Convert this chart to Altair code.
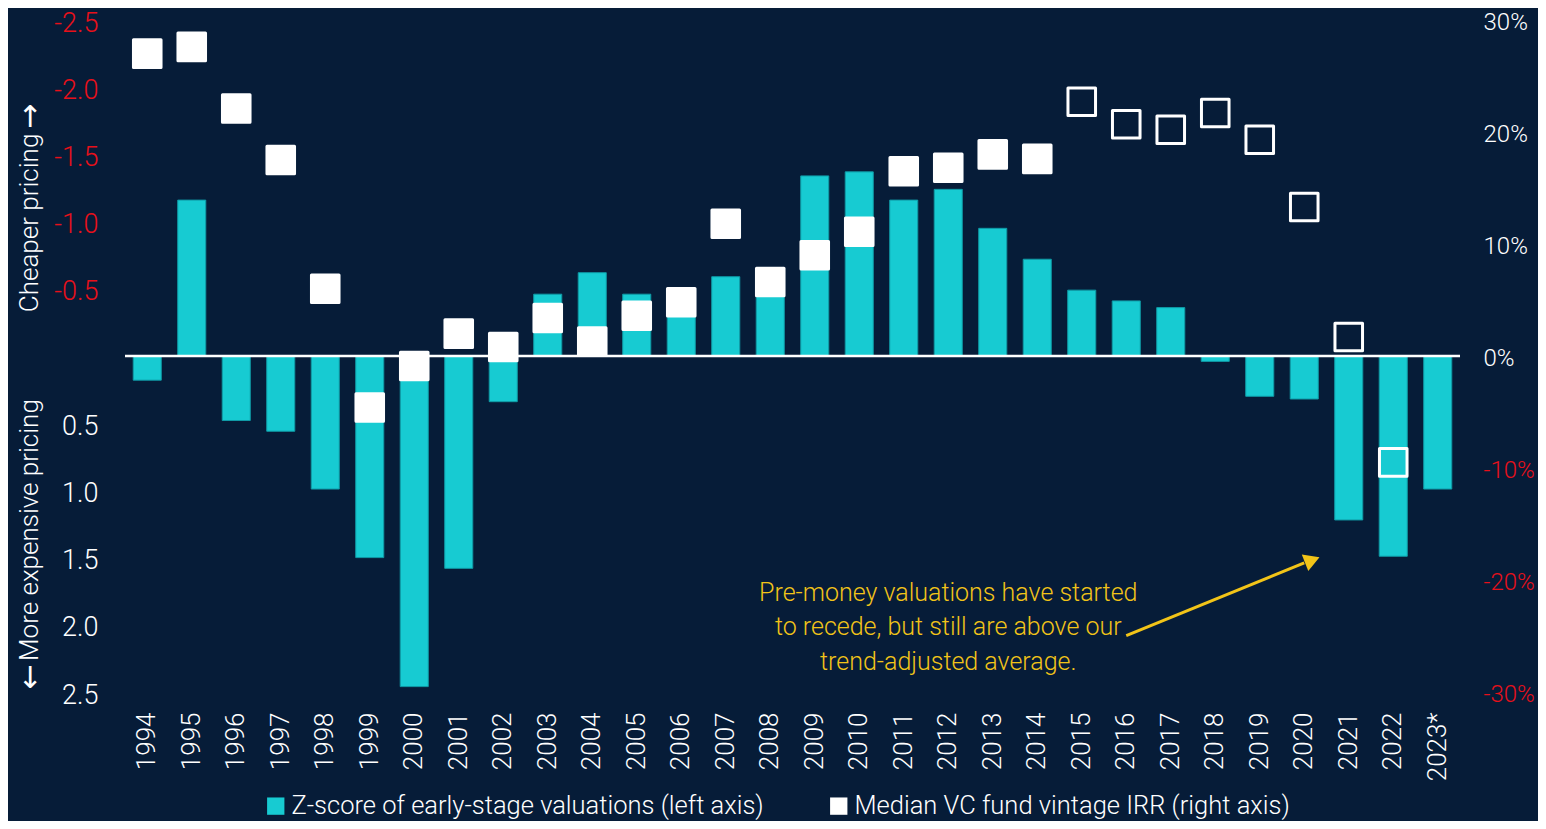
import altair as alt
import pandas as pd

years = ["1994","1995","1996","1997","1998","1999","2000","2001","2002","2003",
         "2004","2005","2006","2007","2008","2009","2010","2011","2012","2013",
         "2014","2015","2016","2017","2018","2019","2020","2021","2022","2023*"]
zscore = [0.18,-1.16,0.48,0.56,0.99,1.50,2.46,1.58,0.34,-0.46,
          -0.62,-0.46,-0.40,-0.59,-0.52,-1.34,-1.37,-1.16,-1.24,-0.95,
          -0.72,-0.49,-0.41,-0.36,0.04,0.30,0.32,1.22,1.49,0.99]
irr_years = ["1994","1995","1996","1997","1998","1999","2000","2001","2002","2003",
             "2004","2005","2006","2007","2008","2009","2010","2011","2012","2013",
             "2014","2015","2016","2017","2018","2019","2020","2021","2022"]
irr = [27.0,27.6,22.1,17.5,6.0,-4.6,-0.9,2.0,0.8,3.4,
       1.3,3.6,4.8,11.8,6.6,9.0,11.1,16.5,16.8,18.0,
       17.6,22.7,20.7,20.2,21.7,19.3,13.3,1.7,-9.5]
irr_mature = [True]*21 + [False]*8

left_ticks = [-2.5,-2.0,-1.5,-1.0,-0.5,0.5,1.0,1.5,2.0,2.5]
right_ticks = [-30,-20,-10,0,10,20,30]

series_a = "Z-score of early-stage valuations (left axis)"
series_b = "Median VC fund vintage IRR (right axis)"
note_lines = ["Pre-money valuations have started",
              "to recede, but still are above our",
              "trend-adjusted average."]
note_year = "2012"
note_z = [1.76, 2.02, 2.28]
arrow_from = ("2016", 2.08)
arrow_to = ("2020", 1.54)
side_texts = ["Cheaper pricing", "More expensive pricing"]
side_z = [-0.99, 1.295]
side_arrows = ["\u2191", "\u2193"]
side_arrow_z = [-1.77, 2.40]

BG = "#061c38"
CYAN = "#17cbd2"
RED = "#e8101a"
WHITE = "#ffffff"
YELLOW = "#f2c418"
FONT = "Roboto"

bars_df = pd.DataFrame({"year": years, "z": zscore, "series": series_a})
pts_df = pd.DataFrame({"year": irr_years, "irr": irr, "series": series_b,
                       "fillc": [WHITE if m else "transparent" for m in irr_mature]})
note_df = pd.DataFrame({"year": note_year, "z": note_z, "line": note_lines})
arrow_df = pd.DataFrame({"x": [arrow_from[0]], "x2": [arrow_to[0]],
                         "y": [arrow_from[1]], "y2": [arrow_to[1]]})
head_df = pd.DataFrame({"x": [arrow_to[0]], "y": [arrow_to[1]]})
side_df = pd.DataFrame({"z": side_z, "t": side_texts})
sidearr_df = pd.DataFrame({"z": side_arrow_z, "t": side_arrows})

xscale = alt.Scale(domain=years, paddingInner=0.37, paddingOuter=0.185)
zscale = alt.Scale(domain=[-2.5, 2.5], reverse=True, nice=False, zero=False)
rscale = alt.Scale(domain=[-30, 30], nice=False)
cscale = alt.Scale(domain=[series_a, series_b], range=[CYAN, WHITE])

xenc = alt.X("year:N", scale=xscale, sort=years,
             axis=alt.Axis(title=None, labelAngle=270, labelFontSize=26, labelFont=FONT,
                           labelFontWeight=300, labelColor=WHITE, labelPadding=20,
                           domain=False, ticks=False, labelOverlap=False))

bars = alt.Chart(bars_df).mark_bar(stroke="#0f9aa6", strokeWidth=1).encode(
    x=xenc,
    y=alt.Y("z:Q", scale=zscale, title=None,
            axis=alt.Axis(title=None, values=left_ticks, orient="left",
                          labelExpr="(datum.value < 0 ? '-' : '') + format(abs(datum.value), '.1f')",
                          labelFontSize=27, labelFont=FONT, labelFontWeight=300,
                          labelPadding=27, labelOffset=3,
                          labelColor={"condition": {"test": "datum.value < 0", "value": RED},
                                      "value": WHITE},
                          domain=False, ticks=False, grid=False)),
    color=alt.Color("series:N", scale=cscale,
                    legend=alt.Legend(title=None, orient="none", legendX=138, legendY=773,
                                      direction="horizontal", symbolType="square",
                                      symbolSize=300, symbolStrokeWidth=0,
                                      labelFontSize=25.5, labelFont=FONT, labelFontWeight=300,
                                      labelColor=WHITE,
                                      labelLimit=700, columnPadding=62, labelOffset=3)),
)

zero = alt.Chart(pd.DataFrame({"z": [0.0]})).mark_rule(color=WHITE, strokeWidth=2.5).encode(
    y=alt.Y("z:Q", scale=zscale, title=None))

note = alt.Chart(note_df).mark_text(font=FONT, fontWeight=300, fontSize=25, color=YELLOW,
                                     align="center", baseline="middle").encode(
    x=alt.X("year:N", scale=xscale, sort=years),
    y=alt.Y("z:Q", scale=zscale, title=None),
    text="line:N")

arrow = alt.Chart(arrow_df).mark_rule(color=YELLOW, strokeWidth=3).encode(
    x=alt.X("x:N", scale=xscale, sort=years), x2="x2:N",
    y=alt.Y("y:Q", scale=zscale, title=None), y2="y2:Q")

head = alt.Chart(head_df).mark_point(shape="triangle-right", filled=True, color=YELLOW,
                                     size=320, angle=338.7, opacity=1, xOffset=8, yOffset=-3).encode(
    x=alt.X("x:N", scale=xscale, sort=years),
    y=alt.Y("y:Q", scale=zscale, title=None))

side = alt.Chart(side_df).mark_text(font=FONT, fontWeight=300, fontSize=26, color=WHITE,
                                     angle=270, align="center", baseline="middle").encode(
    x=alt.value(-95),
    y=alt.Y("z:Q", scale=zscale, title=None),
    text="t:N")

sidearr = alt.Chart(sidearr_df).mark_text(font="DejaVu Sans", fontSize=30, color=WHITE,
                                           align="center", baseline="middle").encode(
    x=alt.value(-95),
    y=alt.Y("z:Q", scale=zscale, title=None),
    text="t:N")

left = alt.layer(bars, zero, note, arrow, head, side, sidearr)

pts = alt.Chart(pts_df).mark_point(shape="square", filled=True, size=760, strokeWidth=3,
                                   opacity=1, strokeJoin="round").encode(
    x=alt.X("year:N", scale=xscale, sort=years),
    y=alt.Y("irr:Q", scale=rscale,
            axis=alt.Axis(title=None, values=right_ticks, orient="right",
                          labelExpr="datum.value + '%'",
                          labelFontSize=24, labelFont=FONT, labelFontWeight=300,
                          labelPadding=23, labelOffset=2,
                          labelColor={"condition": {"test": "datum.value < 0", "value": RED},
                                      "value": WHITE},
                          domain=False, ticks=False, grid=False)),
    color=alt.Color("series:N", scale=cscale),
    fill=alt.Fill("fillc:N", scale=None),
    stroke=alt.value(WHITE),
)

chart = alt.layer(left, pts).resolve_scale(y="independent").properties(
    width=1335, height=672, background=BG,
    padding={"left": 117, "top": 12, "right": 78, "bottom": 129},
    autosize=alt.AutoSizeParams(type="none"),
).configure_view(stroke=None)

chart.save("out.html", embed_options={"renderer": "svg", "actions": False})
